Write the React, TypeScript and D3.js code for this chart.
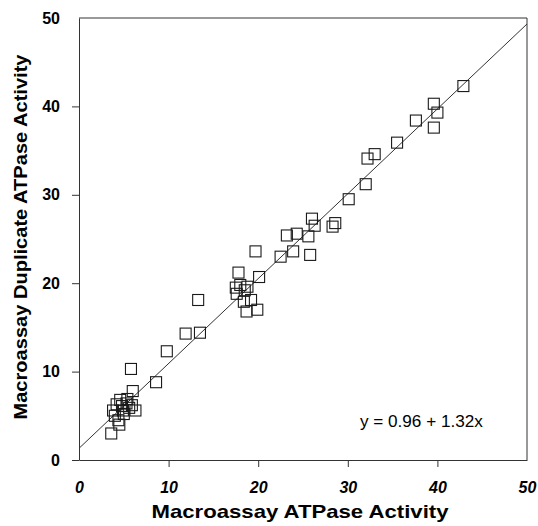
import React, { useEffect, useRef } from "react";
import * as d3 from "d3";

// values (macroassay, duplicate)
const macroX = [
  42.9, 39.6, 39.6, 40.0, 37.6, 35.5, 33.0, 32.2, 32.0, 30.1,
  28.6, 28.3, 26.0, 26.3, 25.6, 25.8, 24.3, 23.2, 23.9, 22.5,
  20.1, 19.7, 17.8, 17.5, 18.0, 18.5, 17.6, 18.8, 18.4, 19.2,
  19.9, 18.7, 13.3, 11.9, 13.5, 9.8, 8.6, 5.8, 6.0, 3.6,
  4.2, 4.6, 5.3, 4.9, 5.6, 4.0, 4.4, 5.0, 6.3, 5.4,
  4.5, 3.8, 5.9, 4.8,
];
const duplicateY = [
  42.3, 40.3, 37.6, 39.3, 38.4, 35.9, 34.6, 34.1, 31.2, 29.5,
  26.8, 26.4, 27.3, 26.5, 25.3, 23.2, 25.6, 25.4, 23.6, 23.0,
  20.7, 23.6, 21.2, 19.5, 19.8, 19.2, 18.8, 19.6, 17.9, 18.1,
  17.0, 16.8, 18.1, 14.3, 14.4, 12.3, 8.8, 10.3, 7.8, 3.0,
  6.3, 6.8, 6.4, 5.6, 5.9, 5.0, 4.5, 5.2, 5.6, 6.9,
  4.0, 5.6, 6.2, 6.1,
];
const tickValues = [0, 10, 20, 30, 40, 50];
const intercept = 1.32;
const slope = 0.96;
const equationLabel = "y = 0.96 + 1.32x";
const xTitle = "Macroassay ATPase Activity";
const yTitle = "Macroassay Duplicate ATPase Activity";

export default function App() {
  const ref = useRef<SVGSVGElement>(null);

  useEffect(() => {
    const margin = { top: 18, right: 11, bottom: 66, left: 79 };
    const width = 538 - margin.left - margin.right;
    const height = 526 - margin.top - margin.bottom;
    const font = "'Liberation Sans', Arial, Helvetica, sans-serif";
    const ink = "#1a1a1a";

    const root = d3.select(ref.current);
    root.selectAll("*").remove();
    const svg = root
      .append("g")
      .attr("transform", `translate(${margin.left}, ${margin.top})`);

    const xScale = d3.scaleLinear().domain([0, 50]).range([0, width]);
    const yScale = d3.scaleLinear().domain([0, 50]).range([height, 0]);

    // frame (top and right sides)
    svg
      .append("path")
      .attr("d", `M0,0H${width}V${height}`)
      .style("fill", "none")
      .style("stroke", "#333")
      .style("stroke-width", 1);

    const xAxis = svg
      .append("g")
      .attr("transform", `translate(0, ${height})`)
      .call(
        d3.axisBottom(xScale).tickValues(tickValues).tickSize(7).tickPadding(15).tickSizeOuter(0)
      );
    const yAxis = svg
      .append("g")
      .call(
        d3.axisLeft(yScale).tickValues(tickValues).tickSize(7).tickPadding(12).tickSizeOuter(0)
      );

    [xAxis, yAxis].forEach((ax) => {
      ax.select(".domain").style("stroke", "#333");
      ax.selectAll(".tick line").style("stroke", "#333");
      ax.selectAll(".tick text")
        .style("font-family", font)
        .style("font-size", "16px")
        .style("font-weight", "bold")
        .style("fill", "#000");
    });
    xAxis.selectAll(".tick text").style("font-style", "italic");
    xAxis.selectAll(".tick").filter((d) => d === 0 || d === 50).select("line").remove();
    yAxis.selectAll(".tick").filter((d) => d === 50).select("line").remove();

    // regression line
    const line = d3
      .line<number>()
      .x((d) => xScale(d))
      .y((d) => yScale(intercept + slope * d));
    svg
      .append("path")
      .datum([0, 50])
      .attr("d", line)
      .style("fill", "none")
      .style("stroke", "#333")
      .style("stroke-width", 1);

    // open square markers
    const s = 11;
    svg
      .selectAll("rect.pt")
      .data(macroX.map((x, i) => [x, duplicateY[i]]))
      .enter()
      .append("rect")
      .attr("class", "pt")
      .attr("x", (d) => xScale(d[0]) - s / 2)
      .attr("y", (d) => yScale(d[1]) - s / 2)
      .attr("width", s)
      .attr("height", s)
      .style("fill", "none")
      .style("stroke", ink)
      .style("stroke-width", 1.1);

    svg
      .append("text")
      .attr("x", xScale(31.35))
      .attr("y", yScale(3.75))
      .attr("textLength", 123)
      .attr("lengthAdjust", "spacingAndGlyphs")
      .style("font-family", font)
      .style("font-size", "16px")
      .style("fill", "#000")
      .text(equationLabel);

    svg
      .append("text")
      .attr("x", width / 2 - 3)
      .attr("y", height + 58)
      .attr("text-anchor", "middle")
      .attr("textLength", 297)
      .attr("lengthAdjust", "spacingAndGlyphs")
      .style("font-family", font)
      .style("font-size", "19px")
      .style("font-weight", "bold")
      .style("fill", "#000")
      .text(xTitle);

    svg
      .append("text")
      .attr("transform", "rotate(-90)")
      .attr("x", -(237 - margin.top))
      .attr("y", 27 - margin.left)
      .attr("text-anchor", "middle")
      .attr("textLength", 365)
      .attr("lengthAdjust", "spacingAndGlyphs")
      .style("font-family", font)
      .style("font-size", "19px")
      .style("font-weight", "bold")
      .style("fill", "#000")
      .text(yTitle);
  }, []);

  return (
    <svg
      ref={ref}
      width={538}
      height={526}
      style={{ position: "absolute", left: 0, top: 0, background: "#fff" }}
    />
  );
}
